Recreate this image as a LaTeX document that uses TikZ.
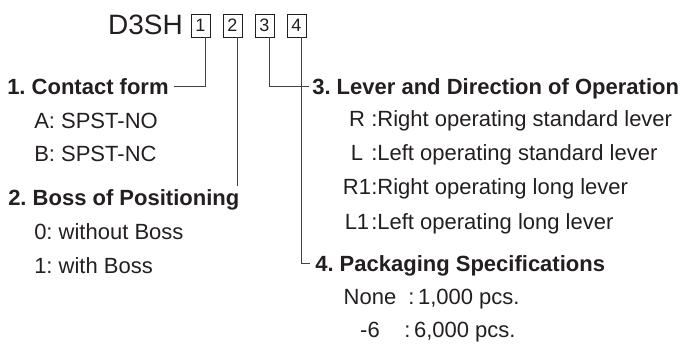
\documentclass[tikz,border=0pt]{standalone}
\usepackage{fontspec}
\setmainfont{Liberation Sans}
\usepackage{tikz}
\definecolor{ink}{RGB}{35,31,32}
\frenchspacing

\begin{document}
\begin{tikzpicture}[x=0.75pt,y=0.75pt,yscale=-1,
  txt/.style={anchor=west,inner sep=0pt,text height=11.8pt,text depth=0pt,font=\fontsize{16.5}{19}\selectfont,text=ink},
  head/.style={txt,font=\bfseries\fontsize{16.5}{19}\selectfont},
  digit/.style={draw=ink,line width=0.6pt,minimum width=14.25pt,minimum height=17.25pt,inner sep=0pt,text height=9.7pt,text depth=0pt,font=\fontsize{13.5}{15}\selectfont,text=ink},
  lead/.style={draw=ink!85,line width=0.75pt}]
\useasboundingbox (0,0) rectangle (686,345);

% Text Node
\node[txt,font=\fontsize{21}{24}\selectfont,text height=15pt,anchor=east] (model) at (183,25) {D3SH};
%Shape: Boxes
\node[digit] (b1) at (200.5,25.5) {1};
\node[digit] (b2) at (232.5,25.5) {2};
\node[digit] (b3) at (264.5,25.5) {3};
\node[digit] (b4) at (296.5,25.5) {4};

% Text Node
\node[head] (cf) at (7,87) {1. Contact form};
\node[txt] (noA) at (34,121) {A: SPST-NO};
\node[txt] (ncB) at (34,154) {B: SPST-NC};
% Text Node
\node[head] (bp) at (8,198) {2. Boss of Positioning};
\node[txt] (boss0) at (34,232) {0: without Boss};
\node[txt] (boss1) at (34,266) {1: with Boss};

% Text Node
\node[head] (lv) at (312,87) {3. Lever and Direction of Operation};
\node[txt,anchor=center] (rKey) at (357,119) {R};
\node[txt] (rVal) at (371,119) {:Right operating standard lever};
\node[txt,anchor=center] (lKey) at (357,153) {L};
\node[txt] (lVal) at (371,153) {:Left operating standard lever};
\node[txt,anchor=center] (r1Key) at (357,187) {R1};
\node[txt] (r1Val) at (371,187) {:Right operating long lever};
\node[txt,anchor=center] (l1Key) at (357,222) {L1};
\node[txt] (l1Val) at (371,222) {:Left operating long lever};

% Text Node
\node[head] (pk) at (315,264) {4. Packaging Specifications};
\node[txt,anchor=center] (noneKey) at (370,297) {None};
\node[txt] (noneVal) at (408,297) {:\,1,000 pcs.};
\node[txt,anchor=center] (sixKey) at (370,330) {-6};
\node[txt] (sixVal) at (404,330) {:\,6,000 pcs.};

%Straight Lines
\coordinate (t1) at ([xshift=3.75pt]b1.south);
\coordinate (t2) at ([xshift=3.75pt]b2.south);
\coordinate (t3) at ([xshift=3.75pt]b3.south);
\coordinate (t4) at ([xshift=3.75pt]b4.south);
\draw[lead] (t1) |- ([xshift=3.75pt]cf.east);
\draw[lead,shorten >=3pt] (t2) -- (t2 |- bp.north);
\draw[lead] (t3) |- ([xshift=-2.25pt]lv.west);
\draw[lead] (t4) |- ([xshift=-3.75pt]pk.west);

\end{tikzpicture}
\end{document}
